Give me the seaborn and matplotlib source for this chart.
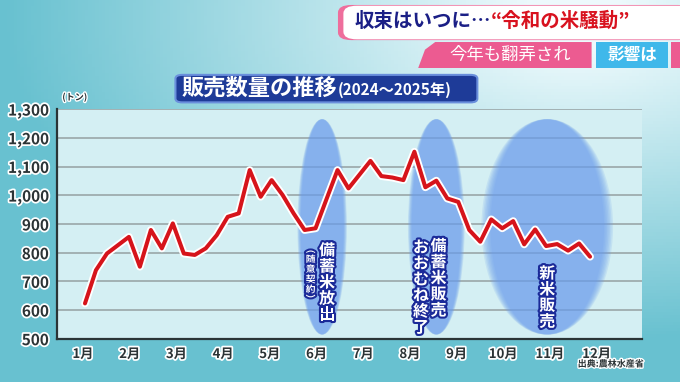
import matplotlib
matplotlib.use("Agg")
import matplotlib.pyplot as plt
import matplotlib.patheffects as pe
from matplotlib.patches import Ellipse, FancyBboxPatch, Polygon
import numpy as np
import pandas as pd
import seaborn as sns

# weekly sales volume, 2024-2025 (tons)
weeks = list(range(47))
sales = [623, 739, 797, 826, 855, 751, 879, 815, 902, 797, 792, 815, 861, 925, 937,
         1088, 995, 1053, 1001, 937, 879, 885, 987, 1088, 1024, 1072, 1120, 1067, 1062,
         1053, 1152, 1028, 1051, 989, 977, 879, 838, 916, 885, 910, 829, 881, 823, 830,
         807, 832, 786]
month_labels = ["1月", "2月", "3月", "4月", "5月", "6月", "7月", "8月", "9月", "10月", "11月", "12月"]
y_ticks = [500, 600, 700, 800, 900, 1000, 1100, 1200, 1300]

# highlighted periods (week centre, week width)
periods = [(21.6, 4.1), (32.0, 4.7), (42.1, 10.9)]

df = pd.DataFrame({"week": weeks, "sales": sales})

sns.set_style("white")
plt.rcParams["font.family"] = ["Noto Sans CJK JP", "DejaVu Sans"]
plt.rcParams["font.weight"] = "bold"

fig = plt.figure(figsize=(6.8, 3.82), dpi=100)

# background gradient
bg = fig.add_axes([0, 0, 1, 1], zorder=-10)
gx, gy = np.meshgrid(np.linspace(0, 1, 200), np.linspace(0, 1, 120))
t = np.clip(1.1 - 1.3 * np.hypot(gx - 0.85, gy - 0.05), 0, 1)
base = np.array([104, 193, 208]) / 255
img = base[None, None, :] * (1 - t[..., None]) + np.array([0.93, 0.98, 0.99])[None, None, :] * t[..., None]
bg.imshow(img, aspect="auto", extent=[0, 1, 0, 1])
bg.axis("off")

ax = fig.add_axes([0.0838, 0.1134, 0.8603, 0.6005])
ax.set_facecolor("#d4eff3")

# soft-edged ovals
for cx, w in periods:
    for k in np.linspace(1.1, 0.95, 7):
        ax.add_patch(Ellipse((cx, 890), w * k, 750 * (0.97 + 0.03 * k), color="#6b9ded",
                             alpha=0.17, lw=0, zorder=1))

sns.lineplot(data=df, x="week", y="sales", ax=ax, color="#d6141b", lw=2.9, zorder=5,
             path_effects=[pe.Stroke(linewidth=5.6, foreground="white"), pe.Normal()])

ax.set_xlim(-2.55, 50.73)
ax.set_ylim(500, 1300)
ax.set_yticks(y_ticks)
ax.set_yticklabels([f"{v:,}" for v in y_ticks])
ax.set_xticks([-0.18 + 4.253 * k for k in range(12)])
ax.set_xticklabels(month_labels)
ax.set_xlabel("")
ax.set_ylabel("")
ax.grid(axis="y", color="#9aa6a8", lw=1.2)
ax.grid(axis="x", visible=False)
for s in ["top", "right"]:
    ax.spines[s].set_visible(False)
for s in ["left", "bottom"]:
    ax.spines[s].set_color("#2a3436")
    ax.spines[s].set_linewidth(1.6)
ax.tick_params(length=0, pad=6)
outline = [pe.withStroke(linewidth=2.5, foreground="white")]
for lab in ax.get_yticklabels():
    lab.set_fontsize(11)
    lab.set_color("#2b3335")
    lab.set_path_effects(outline)
for lab in ax.get_xticklabels():
    lab.set_fontsize(9.5)
    lab.set_color("#2b3335")
    lab.set_path_effects(outline)

# vertical captions
blue_edge = [pe.withStroke(linewidth=3, foreground="#1b2a98")]
def vtext(x, y, s, size):
    ax.text(x, y, "\n".join(s), ha="center", va="top", fontsize=size, color="white",
            linespacing=1.0, path_effects=blue_edge, zorder=6)

vtext(22.05, 835, "備蓄米放出", 11.5)
vtext(20.55, 828, "︵随意契約︶", 7)
vtext(32.2, 850, "備蓄米販売", 11.5)
vtext(30.6, 846, "おおむね終了", 11.5)
vtext(42.1, 755, "新米販売", 11.5)

fig.text(0.11, 0.738, "(トン)", fontsize=6.5, color="#2b3335", ha="center",
         path_effects=[pe.withStroke(linewidth=2, foreground="white")])
fig.text(0.898, 0.04, "出典:農林水産省", fontsize=6.5, color="#2b3335", ha="center",
         path_effects=[pe.withStroke(linewidth=2, foreground="white")])

# chart title box
fig.patches.append(FancyBboxPatch((0.258, 0.732), 0.444, 0.072, transform=fig.transFigure,
                                  boxstyle="round,pad=0.0,rounding_size=0.01",
                                  fc="#1e3b98", ec="#6a8fdc", lw=1.5))
fig.text(0.267, 0.768, "販売数量の推移", fontsize=16, color="white", va="center")
fig.text(0.497, 0.766, "(2024～2025年)", fontsize=11, color="white", va="center")

# news banner
fig.patches.append(FancyBboxPatch((0.497, 0.895), 0.52, 0.092, transform=fig.transFigure,
                                  boxstyle="round,pad=0.0,rounding_size=0.02",
                                  fc="#ee6e9c", ec="none"))
fig.patches.append(FancyBboxPatch((0.505, 0.897), 0.52, 0.088, transform=fig.transFigure,
                                  boxstyle="round,pad=0.0,rounding_size=0.02",
                                  fc="white", ec="none"))
fig.text(0.522, 0.944, "収束はいつに…", fontsize=14, color="#1b1f86", va="center")
fig.text(0.722, 0.944, "“令和の米騒動”", fontsize=14, color="#d8121f", va="center")
fig.patches.append(Polygon([(0.64, 0.89), (0.87, 0.89), (0.87, 0.822), (0.615, 0.822), (0.625, 0.87)],
                           closed=True, transform=fig.transFigure, fc="#ec5b91", ec="none"))
fig.text(0.75, 0.856, "今年も翻弄され", fontsize=12.5, color="white", va="center", ha="center",
         fontweight="normal")
fig.patches.append(Polygon([(0.877, 0.89), (0.983, 0.89), (0.983, 0.822), (0.877, 0.822)],
                           closed=True, transform=fig.transFigure, fc="#3fb8ea", ec="none"))
fig.text(0.93, 0.856, "影響は", fontsize=12, color="white", va="center", ha="center")
fig.patches.append(Polygon([(0.987, 0.89), (1.0, 0.89), (1.0, 0.822), (0.987, 0.822)],
                           closed=True, transform=fig.transFigure, fc="#ec5b91", ec="none"))

fig.savefig("out.png", dpi=100)
